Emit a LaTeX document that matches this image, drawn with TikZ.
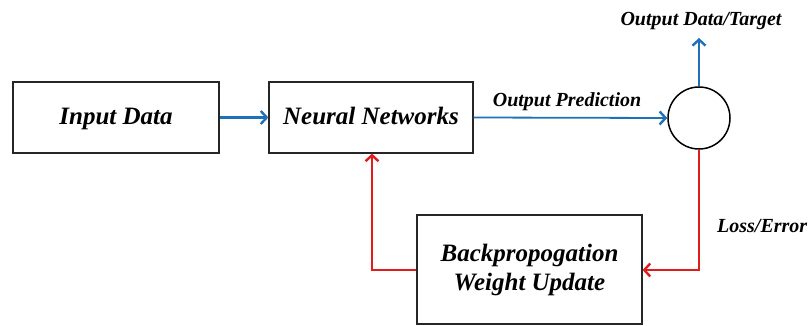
\documentclass[tikz,border=0pt]{standalone}
\usepackage{fontspec}
\setmainfont{Liberation Serif}
\usetikzlibrary{arrows.meta}
\definecolor{flowblue}{RGB}{30,112,184}
\definecolor{flowred}{RGB}{224,28,28}
\tikzset{
  block/.style={draw=black!85, line width=1.2pt, fill=white, inner sep=0pt},
  blocktext/.style={font=\fontsize{25}{29}\selectfont\bfseries\itshape},
  oneline/.style={text height=17pt, text depth=3pt},
  lbl/.style={font=\fontsize{20}{22}\selectfont\bfseries\itshape, inner sep=0pt},
  fwd/.style={draw=flowblue, line width=2.4pt, -{Straight Barb[length=6pt,width=13pt,line width=2.4pt]}},
  back/.style={draw=flowred, line width=2.4pt, -{Straight Barb[length=6pt,width=13pt,line width=2.4pt]}}
}
\begin{document}
\begin{tikzpicture}[x=1pt,y=-1pt]
\useasboundingbox (0,0) rectangle (812,326);
% blocks
\node[block, minimum width=206pt, minimum height=71pt, blocktext, oneline] (in) at (116,117.5) {Input Data};
\node[block, minimum width=204pt, minimum height=71pt, blocktext, oneline] (nn) at (371,117.5) {Neural Networks};
\node[draw=black, line width=1.5pt, circle, minimum size=62pt, inner sep=0pt] (sum) at (699,118) {};
\node[block, minimum width=225pt, minimum height=109pt, blocktext, align=center] (bp) at (529.5,269.5) {Backpropogation\\Weight Update};
% labels
\coordinate (tgt) at (699,38);
\node[lbl] (tl) at (701,21) {Output Data/Target};
\node[lbl] (pl) at (567,102) {Output Prediction};
\node[lbl, anchor=west] (ll) at (717,226) {Loss/Error};
% forward path
\draw[fwd] (in) -- (nn);
\draw[fwd, line width=1.8pt] (nn.east) -- (sum.west);
\draw[fwd] (sum.north) -- (tgt);
% error feedback
\coordinate (c1) at (699,270);
\coordinate (c2) at (372,270);
\draw[back] (sum.south) -- (c1) -- (bp.east |- c1);
\draw[back] (bp.west |- c2) -- (c2) -- (nn.south -| c2);
\end{tikzpicture}
\end{document}
